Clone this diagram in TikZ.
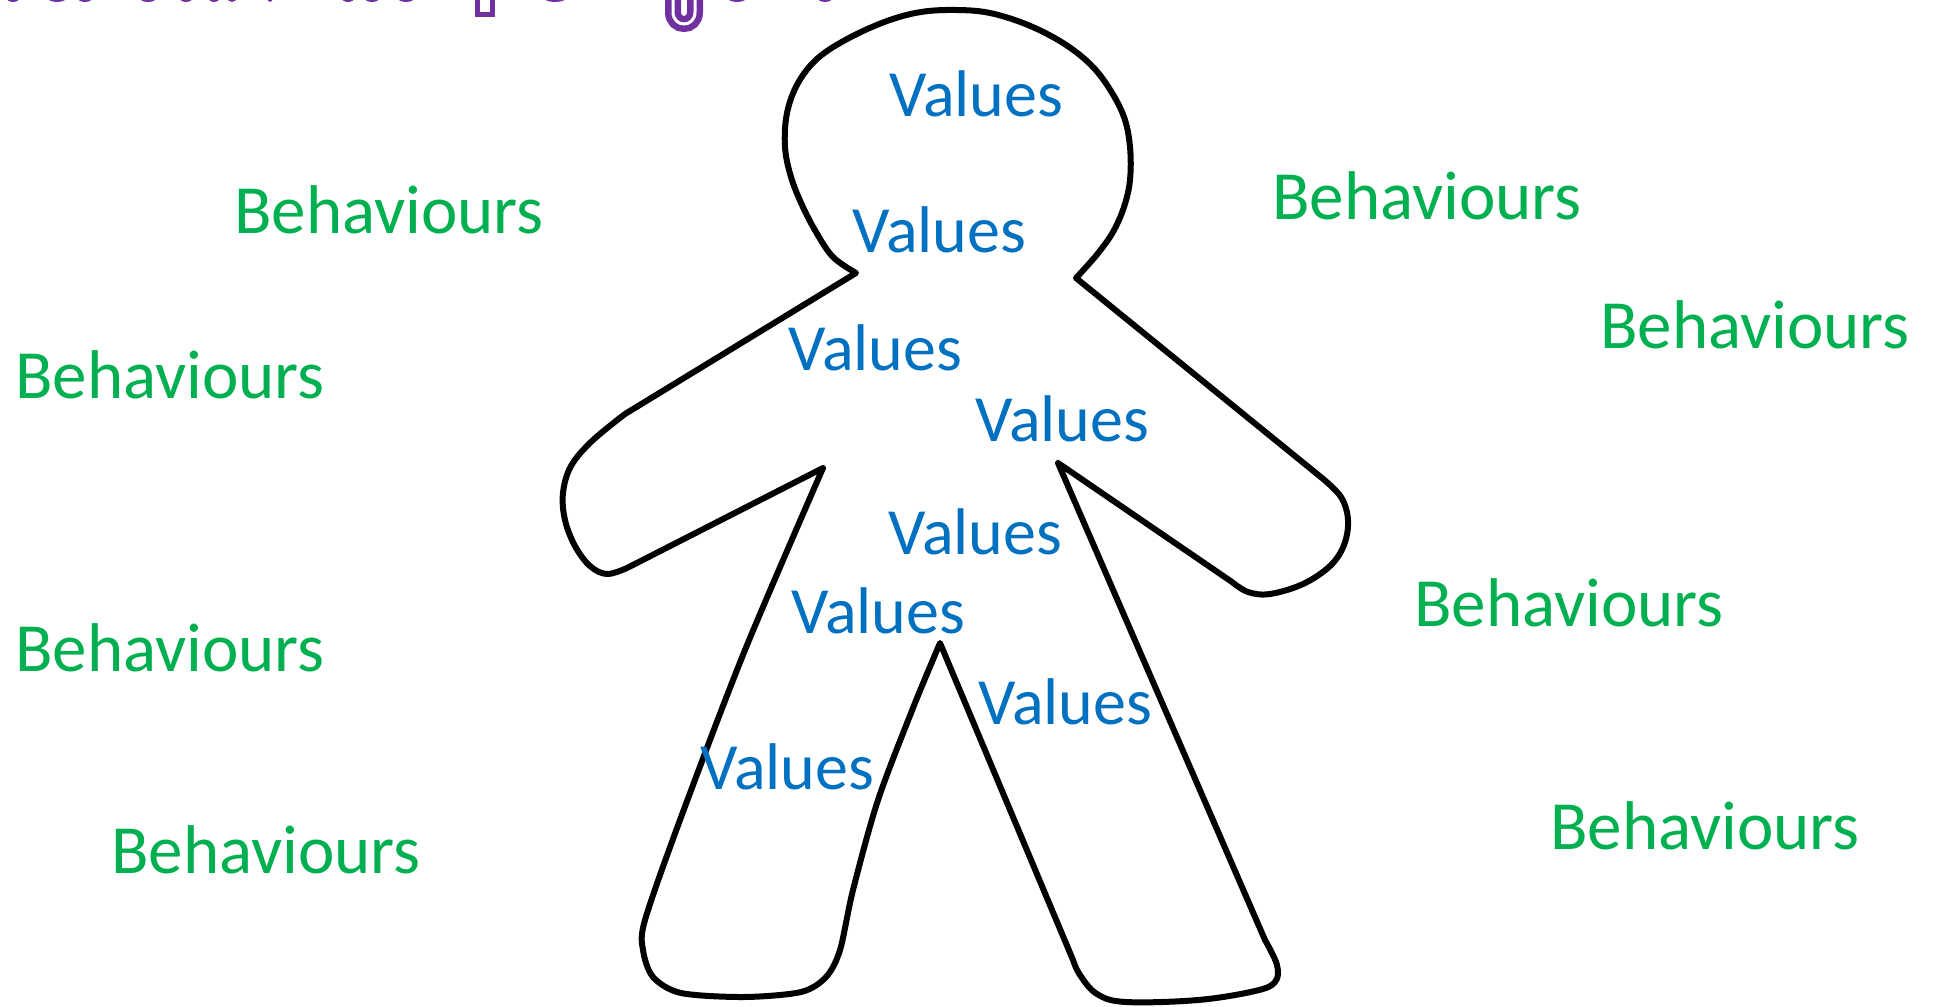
\documentclass[tikz,border=0pt]{standalone}
\usepackage{fontspec}
\setmainfont{Carlito}
\definecolor{behgreen}{RGB}{0,176,80}
\definecolor{valblue}{RGB}{0,112,192}
\definecolor{titlepurple}{RGB}{112,48,160}
\begin{document}
\begin{tikzpicture}[x=1pt,y=-1pt,
  outline/.style={draw=black, line width=6pt, line join=round, line cap=round},
  beh/.style={text=behgreen, font=\fontsize{69}{80}\selectfont, anchor=base west, inner sep=0pt},
  val/.style={text=valblue, font=\fontsize{66}{78}\selectfont, anchor=base west, inner sep=0pt},
  titleink/.style={draw=titlepurple, line width=5pt},
]
\useasboundingbox (0,0) rectangle (1937,1006);
\clip (0,0) rectangle (1937,1006);
\fill[white] (0,0) rectangle (1937,1006);

% lower edges of the purple heading, running off the top of the page
\foreach \cx/\rx in {13/7, 57/10, 85/8, 148/9, 186/7, 214/6, 232/5, 270/3, 348/7, 372/8, 406/9, 555/12, 737/10, 825/8}
  \fill[titlepurple] (\cx,-3) ellipse [x radius=\rx, y radius=5];
\draw[titleink] (477.5,-5) -- (477.5,14.5) -- (492.5,14.5) -- (492.5,-5);
\draw[draw=titlepurple, double=white, double distance=3pt, line width=6.5pt]
  (673,-8) -- (673,12) .. controls (673,28) and (695,28) .. (695,12) -- (695,-8);

% gingerbread-person outline: curved head, hands and feet, straight limbs
\draw[outline]
  plot[smooth, tension=0.6] coordinates {
    (856,273) (833,257) (816,232) (802,205) (791,177) (785,147) (787,113)
    (798,83) (818,58) (849,38) (887,21) (921,12) (956,10) (990,13) (1028,25)
    (1063,43) (1090,64) (1109,88) (1124,117) (1130,147) (1130,180) (1124,207)
    (1113,232) (1099,252) (1087,266) (1076,278)}
  -- (1322,478)
  -- plot[smooth, tension=0.6] coordinates {
    (1322,478) (1341,497) (1348,520) (1344,545) (1330,566) (1303,584)
    (1270,594) (1248,592) (1232,582)}
  -- (1058,463)
  -- (1265,940)
  -- plot[smooth, tension=0.6] coordinates {
    (1265,940) (1277,965) (1275,982) (1255,991) (1198,1000) (1126,1002)
    (1097,994) (1080,975) (1073,960)}
  -- (940,643)
  -- plot[smooth, tension=0.5] coordinates {
    (940,643) (913,708) (878,800) (853,890) (840,950) (826,977) (801,992)
    (744,997) (681,993) (653,977) (643,950) (645,920) (680,820) (745,650)
    (823,468)}
  -- (627,568)
  -- plot[smooth, tension=0.6] coordinates {
    (627,568) (607,574) (590,566) (575,546) (565,520) (563,493) (571,466)
    (592,441) (625,414)}
  -- cycle;

% values inside the figure
\node[val] (v1) at (889,117) {Values};
\node[val] (v2) at (852,252) {Values};
\node[val] (v3) at (788,370) {Values};
\node[val] (v4) at (975,441) {Values};
\node[val] (v5) at (888,554) {Values};
\node[val] (v6) at (791,633) {Values};
\node[val] (v7) at (978,724) {Values};
\node[val] (v8) at (700,789) {Values};

% behaviours around the figure
\node[beh] (b1) at (234,233) {Behaviours};
\node[beh] (b2) at (1272,219) {Behaviours};
\node[beh] (b3) at (1600,348) {Behaviours};
\node[beh] (b4) at (15,398) {Behaviours};
\node[beh] (b5) at (1414,626) {Behaviours};
\node[beh] (b6) at (15,671) {Behaviours};
\node[beh] (b7) at (1550,849) {Behaviours};
\node[beh] (b8) at (111,873) {Behaviours};
\end{tikzpicture}
\end{document}
